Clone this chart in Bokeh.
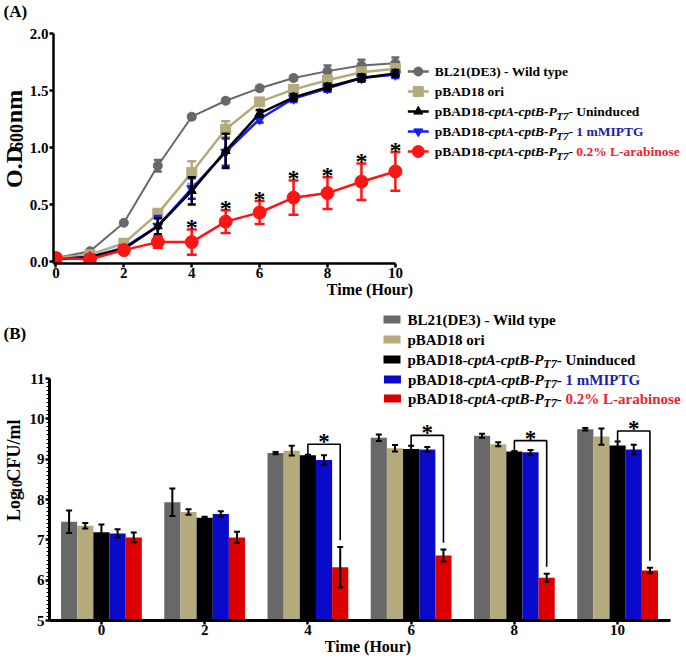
import math
from bokeh.plotting import figure
from bokeh.layouts import column, row
from bokeh.models import FixedTicker, Range1d, NumeralTickFormatter
from bokeh.core.properties import value
from bokeh.embed import file_html
from bokeh.resources import INLINE

# ---------------- data: panel (A) growth curves ----------------
hours_a = [0, 1, 2, 3, 4, 5, 6, 7, 8, 9, 10]
od_wt = [0.03, 0.09, 0.34, 0.84, 1.27, 1.41, 1.52, 1.61, 1.67, 1.72, 1.74]
od_wt_err = [0.01, 0.01, 0.01, 0.05, 0.02, 0.02, 0.02, 0.02, 0.05, 0.05, 0.05]
od_ori = [0.03, 0.06, 0.16, 0.42, 0.78, 1.16, 1.40, 1.51, 1.59, 1.66, 1.69]
od_ori_err = [0.01, 0.01, 0.02, 0.04, 0.10, 0.07, 0.02, 0.03, 0.04, 0.04, 0.04]
od_unind = [0.02, 0.04, 0.11, 0.31, 0.62, 0.97, 1.30, 1.44, 1.53, 1.61, 1.65]
od_unind_err = [0.01, 0.01, 0.02, 0.07, 0.12, 0.15, 0.03, 0.03, 0.03, 0.03, 0.03]
od_iptg = [0.02, 0.04, 0.12, 0.31, 0.64, 0.96, 1.25, 1.43, 1.52, 1.61, 1.64]
od_iptg_err = [0.01, 0.01, 0.01, 0.09, 0.09, 0.12, 0.03, 0.03, 0.03, 0.03, 0.03]
od_ara = [0.03, 0.02, 0.10, 0.17, 0.17, 0.35, 0.43, 0.56, 0.60, 0.70, 0.79]
od_ara_err = [0.01, 0.01, 0.01, 0.05, 0.11, 0.10, 0.10, 0.15, 0.14, 0.16, 0.17]
sig_hours_a = [4, 5, 6, 7, 8, 9, 10]
ticks_a_x = [0, 2, 4, 6, 8, 10]
ticks_a_y = [0.0, 0.5, 1.0, 1.5, 2.0]

# ---------------- data: panel (B) viable counts ----------------
hours_b = [0, 2, 4, 6, 8, 10]
cfu_wt = [7.45, 7.93, 9.15, 9.53, 9.58, 9.74]
cfu_wt_err = [0.28, 0.34, 0.03, 0.08, 0.05, 0.03]
cfu_ori = [7.35, 7.69, 9.21, 9.27, 9.37, 9.56]
cfu_ori_err = [0.07, 0.07, 0.12, 0.08, 0.05, 0.20]
cfu_unind = [7.19, 7.55, 9.10, 9.25, 9.19, 9.34]
cfu_unind_err = [0.19, 0.02, 0.01, 0.08, 0.01, 0.10]
cfu_iptg = [7.16, 7.64, 8.98, 9.24, 9.17, 9.24]
cfu_iptg_err = [0.10, 0.07, 0.12, 0.06, 0.06, 0.12]
cfu_ara = [7.06, 7.06, 6.32, 6.61, 6.06, 6.24]
cfu_ara_err = [0.12, 0.14, 0.50, 0.15, 0.10, 0.07]
sig_hours_b = [4, 6, 8, 10]
ticks_b_y = [5, 6, 7, 8, 9, 10, 11]

# ---------------- labels ----------------
name_wt = "BL21(DE3) - Wild type"
name_ori = "pBAD18 ori"
strain_base = "pBAD18-"
strain_ital = "cptA-cptB-P"
strain_sub = "T7"
strain_dash = "- "
conditions = ["Uninduced", "1 mMIPTG", "0.2% L-arabinose"]
panel_a, panel_b = "(A)", "(B)"
time_label = "Time (Hour)"
ylab_a = [("O.D", False), ("600", True), (" nm", False)]
ylab_b = [("Log", False), ("10", True), (" CFU/ml", False)]

FONT = "Liberation Serif"
C_GRAY = "#686868"
C_TAN = "#b4aa7c"
C_BLACK = "#000000"
C_BLUE = "#1a1aff"
C_RED = "#ff1414"
C_BAR_BLUE = "#0a0acb"
C_BAR_RED = "#dc0000"
C_TXT_BLUE = "#2020b0"
C_TXT_RED = "#ec2430"

# Times-Bold / Times-BoldItalic advance widths (per 1000 em)
TB = {' ': 250, '%': 1000, '(': 333, ')': 333, '-': 333, '.': 250, '/': 278,
      '0': 500, '1': 500, '2': 500, '3': 500, '4': 500, '5': 500, '6': 500,
      '7': 500, '8': 500, '9': 500, 'A': 722, 'B': 667, 'C': 722, 'D': 722,
      'E': 667, 'F': 611, 'G': 778, 'H': 778, 'I': 389, 'L': 667, 'M': 944,
      'O': 778, 'P': 611, 'T': 667, 'U': 722, 'W': 1000, 'a': 500, 'b': 556,
      'c': 444, 'd': 556, 'e': 444, 'g': 500, 'i': 278, 'l': 278, 'm': 833,
      'n': 556, 'o': 500, 'p': 556, 'r': 444, 's': 389, 't': 333, 'u': 556,
      'y': 500}
TBI = {'c': 444, 'p': 500, 't': 278, 'A': 667, 'B': 667, 'P': 611, '-': 333,
       'T': 611, '7': 500}


def tw(s, size, italic=False):
    tab = TBI if italic else TB
    return sum(tab.get(ch, TB.get(ch, 500)) for ch in s) * size / 1000.0


class Mapper:
    """page pixel -> data coordinates (frame left/top given in page pixels)"""
    def __init__(self, fl, ft, x0, y1, kx, ky):
        self.fl, self.ft, self.x0, self.y1, self.kx, self.ky = fl, ft, x0, y1, kx, ky

    def x(self, px):
        return self.x0 + (px - self.fl) / self.kx

    def y(self, py):
        return self.y1 - (py - self.ft) / self.ky


def pixel_fig(x0, x1, y0, y1):
    """figure whose frame fills the canvas and whose data units are page pixels"""
    f = figure(width=x1 - x0, height=y1 - y0, x_range=Range1d(x0, x1),
               y_range=Range1d(y1, y0), x_axis_type=None, y_axis_type=None,
               output_backend="svg", toolbar_location=None,
               min_border_left=0, min_border_right=0, min_border_top=0,
               min_border_bottom=0)
    f.outline_line_color = None
    f.background_fill_color = "white"
    f.border_fill_color = "white"
    return f, Mapper(x0, y0, x0, y0, 1.0, -1.0)


def style_axis(ax, size="15px"):
    ax.axis_line_width = 2.5
    ax.axis_line_color = "black"
    ax.major_tick_line_width = 2.5
    ax.major_tick_line_color = "black"
    ax.major_tick_out = 4
    ax.major_tick_in = 0
    ax.minor_tick_line_color = None
    ax.major_label_text_font = FONT
    ax.major_label_text_font_style = "bold"
    ax.major_label_text_font_size = size
    ax.major_label_text_color = "black"
    ax.major_label_standoff = 1
    ax.axis_label_text_font = FONT
    ax.axis_label_text_font_style = "bold"
    ax.axis_label_text_font_size = "16px"
    ax.axis_label_text_color = "black"
    ax.axis_label_standoff = 0


def put_text(p, m, xp, yp, txt, size, style="bold", color="black", align="left",
             baseline="middle", angle=0.0):
    p.text(x=[m.x(xp)], y=[m.y(yp)], text=[txt], text_font=value(FONT),
           text_font_style=style, text_font_size=f"{size}px", text_color=color,
           text_align=align, text_baseline=baseline, angle=angle)


def rich_text(p, m, x_page, y_page, pieces, size, sub_size, sub_drop):
    x = x_page
    for txt, italic, color, sub in pieces:
        fs = sub_size if sub else size
        put_text(p, m, x, y_page + (sub_drop if sub else 0), txt, fs,
                 style="bold italic" if italic else "bold", color=color)
        x += tw(txt, fs, italic)


def legend_pieces():
    rows = [[(name_wt, False, C_BLACK, False)], [(name_ori, False, C_BLACK, False)]]
    for cond, col in zip(conditions, [C_BLACK, C_TXT_BLUE, C_TXT_RED]):
        rows.append([(strain_base, False, C_BLACK, False),
                     (strain_ital, True, C_BLACK, False),
                     (strain_sub, True, C_BLACK, True),
                     (strain_dash, False, C_BLACK, False),
                     (cond, False, col, False)])
    return rows


def rot_label(p, m, x_page, y_center, pieces, size, sub_size, sub_shift):
    """vertical (bottom-to-top) label; every piece is centred on its own anchor"""
    total = sum(tw(t, sub_size if s else size) for t, s in pieces)
    y = y_center + total / 2.0
    for t, s in pieces:
        fs = sub_size if s else size
        lead = len(t) - len(t.lstrip(" "))
        if lead:
            y -= tw(" " * lead, fs)
            t = t.lstrip(" ")
        w = tw(t, fs)
        put_text(p, m, x_page + (sub_shift if s else 0), y - w / 2.0, t, fs,
                 align="center", angle=math.pi / 2)
        y -= w


W = 686
STRIP = 26

# =================== header with (A) ===================
head_a, mh = pixel_fig(0, W, 0, 26)
put_text(head_a, mh, 3, 11, panel_a, 17)

# =================== panel (A) ===================
TOP_A, BOT_A = 26, 303
FL1, FB1 = 50, 263          # page px of frame left / bottom
KX1, KY1 = 34.1, 114.0
X0P1, Y0P1 = 52.5, 261      # page px of x=0 / y=0
xs1, xe1 = (FL1 - X0P1) / KX1, (W - X0P1) / KX1
ys1, ye1 = (Y0P1 - FB1) / KY1, (Y0P1 - TOP_A) / KY1
m1 = Mapper(FL1, TOP_A, xs1, ye1, KX1, KY1)

p1 = figure(width=W - STRIP, height=BOT_A - TOP_A, x_range=Range1d(xs1, xe1),
            y_range=Range1d(ys1, ye1), output_backend="svg", toolbar_location=None,
            min_border_left=FL1 - STRIP, min_border_right=0, min_border_top=0,
            min_border_bottom=BOT_A - FB1)
p1.outline_line_color = None
p1.grid.visible = False
for ax in (p1.xaxis[0], p1.yaxis[0]):
    style_axis(ax)
p1.xaxis[0].major_label_standoff = 0
p1.xaxis[0].axis_label = time_label
p1.xaxis[0].ticker = FixedTicker(ticks=ticks_a_x)
p1.yaxis[0].ticker = FixedTicker(ticks=ticks_a_y)
p1.yaxis[0].formatter = NumeralTickFormatter(format="0.0")
p1.xaxis[0].bounds = (xs1, 10)
p1.yaxis[0].bounds = (ys1, 2)

series_a = [
    (od_wt, od_wt_err, C_GRAY, "circle", 9, 2.0, 8),
    (od_ori, od_ori_err, C_TAN, "square", 10, 2.5, 9),
    (od_iptg, od_iptg_err, C_BLUE, "inverted_triangle", 10, 2.5, 8),
    (od_unind, od_unind_err, C_BLACK, "triangle", 9, 2.5, 8),
    (od_ara, od_ara_err, C_RED, "circle", 13, 2.5, 10),
]
for vals, errs, col, mk, sz, lw, cap in series_a:
    lo = [v - e for v, e in zip(vals, errs)]
    hi = [v + e for v, e in zip(vals, errs)]
    p1.line(hours_a, vals, line_color=col, line_width=lw)
    p1.segment(x0=hours_a, y0=lo, x1=hours_a, y1=hi, line_color=col, line_width=2.5)
    p1.scatter(hours_a, lo, marker="dash", size=cap, line_color=col, line_width=2.5)
    p1.scatter(hours_a, hi, marker="dash", size=cap, line_color=col, line_width=2.5)
    p1.scatter(hours_a, vals, marker=mk, size=sz, fill_color=col, line_color=col)

star_y_a = [od_ara[hours_a.index(h)] + od_ara_err[hours_a.index(h)] + 2.5 / KY1
            for h in sig_hours_a]
p1.text(x=sig_hours_a, y=star_y_a, text=["*"] * len(sig_hours_a), text_font=value(FONT),
        text_font_style="bold", text_font_size="24px", text_color="black",
        text_align="center", text_baseline="alphabetic")

rows_y_a = [71, 91, 111, 131, 151]
leg_a = [(C_GRAY, "circle", 9), (C_TAN, "square", 10), (C_BLACK, "triangle", 9),
         (C_BLUE, "inverted_triangle", 9), (C_RED, "circle", 12)]
for (col, mk, sz), yp, pieces in zip(leg_a, rows_y_a, legend_pieces()):
    p1.segment(x0=[m1.x(406)], y0=[m1.y(yp)], x1=[m1.x(427)], y1=[m1.y(yp)],
               line_color=col, line_width=2.5)
    p1.scatter([m1.x(416.5)], [m1.y(yp)], marker=mk, size=sz, fill_color=col,
               line_color=col)
    rich_text(p1, m1, 433, yp, pieces, 13.5, 11, 4)

strip_a, msa = pixel_fig(0, STRIP, TOP_A, BOT_A)
rot_label(strip_a, msa, 13, 157, ylab_a, 24, 18, 3)

# =================== panel (B) header: (B) + first legend rows ===================
TOP_B, SPLIT_B, BOT_B = 303, 370, 660
head_b, mhb = pixel_fig(0, W, TOP_B, SPLIT_B)
put_text(head_b, mhb, 3, 333, panel_b, 17)

# =================== panel (B) chart ===================
FL2, FB2 = 48, 620
KX2 = 51.7
Y11P = 378
KY2 = (FB2 - Y11P) / 6.0
X0P2 = 100
xs2, xe2 = (FL2 - X0P2) / KX2, (W - X0P2) / KX2
ys2, ye2 = 5.0, 11.0 + (Y11P - SPLIT_B) / KY2
m2 = Mapper(FL2, SPLIT_B, xs2, ye2, KX2, KY2)

p2 = figure(width=W - STRIP, height=BOT_B - SPLIT_B, x_range=Range1d(xs2, xe2),
            y_range=Range1d(ys2, ye2), output_backend="svg", toolbar_location=None,
            min_border_left=FL2 - STRIP, min_border_right=0, min_border_top=0,
            min_border_bottom=BOT_B - FB2)
p2.outline_line_color = None
p2.grid.visible = False
for ax in (p2.xaxis[0], p2.yaxis[0]):
    style_axis(ax)
p2.xaxis[0].axis_line_width = 3
p2.yaxis[0].axis_line_width = 3
p2.xaxis[0].major_label_standoff = 0
p2.xaxis[0].axis_label = time_label
p2.xaxis[0].ticker = FixedTicker(ticks=hours_b)
p2.yaxis[0].ticker = FixedTicker(ticks=ticks_b_y,
                                 minor_ticks=[5 + i / 10 for i in range(61)])
p2.yaxis[0].minor_tick_line_color = "black"
p2.yaxis[0].minor_tick_line_width = 1
p2.yaxis[0].minor_tick_out = 3
p2.yaxis[0].minor_tick_in = 0
p2.xaxis[0].bounds = (xs2, (670 - X0P2) / KX2)
p2.yaxis[0].bounds = (5, 11)

BW = 0.313
series_b = [
    (cfu_wt, cfu_wt_err, C_GRAY),
    (cfu_ori, cfu_ori_err, C_TAN),
    (cfu_unind, cfu_unind_err, C_BLACK),
    (cfu_iptg, cfu_iptg_err, C_BAR_BLUE),
    (cfu_ara, cfu_ara_err, C_BAR_RED),
]
for k, (vals, errs, col) in enumerate(series_b):
    xs = [h + (k - 2) * BW for h in hours_b]
    p2.vbar(x=xs, top=vals, bottom=5, width=BW, fill_color=col, line_color=None)
for k, (vals, errs, col) in enumerate(series_b):
    xs = [h + (k - 2) * BW for h in hours_b]
    lo = [v - e for v, e in zip(vals, errs)]
    hi = [v + e for v, e in zip(vals, errs)]
    p2.segment(x0=xs, y0=lo, x1=xs, y1=hi, line_color="black", line_width=2)
    p2.scatter(xs, lo, marker="dash", size=6, line_color="black", line_width=2)
    p2.scatter(xs, hi, marker="dash", size=6, line_color="black", line_width=2)

br_xs, br_ys, st_x, st_y = [], [], [], []
for h in sig_hours_b:
    i = hours_b.index(h)
    left_bot = cfu_unind[i] + cfu_unind_err[i]
    top = left_bot + 0.26
    right_bot = cfu_ara[i] + cfu_ara_err[i] + 0.17
    lx, rx = h, h + 2 * BW
    br_xs.append([lx, lx, rx, rx])
    br_ys.append([left_bot, top, top, right_bot])
    st_x.append(h + BW)
    st_y.append(top + 2.5 / KY2)
p2.multi_line(br_xs, br_ys, line_color="black", line_width=1.6)
p2.text(x=st_x, y=st_y, text=["*"] * len(st_x), text_font=value(FONT),
        text_font_style="bold", text_font_size="23px", text_color="black",
        text_align="center", text_baseline="alphabetic")

# legend (B): rows above the split go to head_b, the rest into the chart frame
rows_y_b = [319, 339, 359, 379, 398]
leg_b = [C_GRAY, C_TAN, C_BLACK, C_BAR_BLUE, C_BAR_RED]
for col, yp, pieces in zip(leg_b, rows_y_b, legend_pieces()):
    tgt, mm = (head_b, mhb) if yp < SPLIT_B else (p2, m2)
    tgt.rect(x=[mm.x(391.5)], y=[mm.y(yp)], width=17, height=8, width_units="screen",
             height_units="screen", fill_color=col, line_color=None)
    rich_text(tgt, mm, 407, yp, pieces, 15, 12, 4)

strip_b, msb = pixel_fig(0, STRIP, SPLIT_B, BOT_B)
rot_label(strip_b, msb, 13, 487, ylab_b, 18, 14, 3)

layout = column(head_a, row(strip_a, p1, spacing=0), head_b, row(strip_b, p2, spacing=0),
                spacing=0)
open("out.html", "w").write(file_html(layout, INLINE))
